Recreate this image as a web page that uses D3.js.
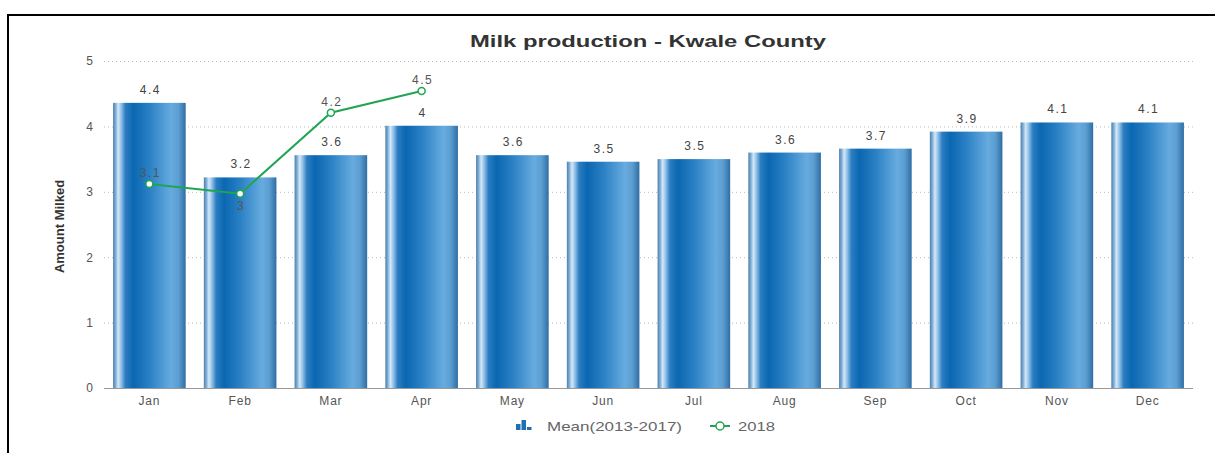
<!DOCTYPE html>
<html>
<head>
<meta charset="utf-8">
<script src="https://cdn.jsdelivr.net/npm/d3@7/dist/d3.min.js"></script>
<style>
  html, body { margin: 0; padding: 0; background: #fff; }
  svg { display: block; }
</style>
</head>
<body>
<svg id="chart" width="1215" height="453"></svg>
<script>
// Monthly milk production, Kwale County
const months = ["Jan", "Feb", "Mar", "Apr", "May", "Jun", "Jul", "Aug", "Sep", "Oct", "Nov", "Dec"];
const meanValues = [4.36, 3.22, 3.56, 4.01, 3.56, 3.46, 3.5, 3.6, 3.66, 3.92, 4.06, 4.06];
const months2018 = ["Jan", "Feb", "Mar", "Apr"];
const values2018 = [3.12, 2.97, 4.21, 4.54];
const yTicks = [0, 1, 2, 3, 4, 5];
const seriesNames = ["Mean(2013-2017)", "2018"];
const titleText = "Milk production - Kwale County";
const yTitle = "Amount Milked";

const W = 1215, H = 453;
const plot = { left: 104, right: 1193, top: 61, bottom: 388 };
const svg = d3.select("#chart");
const fmt = v => String(+v.toFixed(1));
const sans = "Liberation Sans, Arial, sans-serif";

// Frame (top and left edges)
svg.append("path")
  .attr("d", `M8,${H} L8,15 L${W},15`)
  .attr("fill", "none").attr("stroke", "#000").attr("stroke-width", 2);

// Bar gradient giving a cylindrical look
const defs = svg.append("defs");
const grad = defs.append("linearGradient").attr("id", "barGrad")
  .attr("x1", "0%").attr("x2", "100%").attr("y1", "0%").attr("y2", "0%");
[[0, "#4d7fab"], [0.035, "#7eaed6"], [0.07, "#d4e8f8"], [0.11, "#93c2e8"],
 [0.17, "#2c7dc1"], [0.28, "#0a67b1"], [0.5, "#2a80c4"], [0.8, "#67abdf"],
 [0.9, "#5c9ed2"], [1, "#2f6ea4"]].forEach(([o, c]) =>
  grad.append("stop").attr("offset", o).attr("stop-color", c));

const x = d3.scaleBand().domain(months).range([plot.left, plot.right]).paddingInner(0.2).paddingOuter(0.1);
const y = d3.scaleLinear().domain([0, 5]).range([plot.bottom, plot.top]);

// Horizontal dotted gridlines
svg.append("g").selectAll("line").data(yTicks.filter(t => t > 0)).join("line")
  .attr("x1", plot.left).attr("x2", plot.right)
  .attr("y1", d => y(d) + 0.5).attr("y2", d => y(d) + 0.5)
  .attr("stroke", "#b8b8b8").attr("stroke-width", 1).attr("stroke-dasharray", "1,3");

// Y axis tick labels
const yAxis = d3.axisLeft(y).tickValues(yTicks).tickSize(0).tickPadding(11).tickFormat(d3.format("d"));
const yg = svg.append("g").attr("transform", `translate(${plot.left},0)`).call(yAxis);
yg.select(".domain").remove();
yg.selectAll("text").attr("fill", "#555").style("font-family", sans).style("font-size", "12px");

// Y axis title
svg.append("text")
  .attr("transform", `translate(64,${(plot.top + plot.bottom) / 2 + 2}) rotate(-90)`)
  .attr("text-anchor", "middle")
  .style("font-family", "Liberation Sans Narrow, Arial Narrow, Liberation Sans, sans-serif")
  .style("font-size", "13px").style("font-weight", "bold").attr("fill", "#333")
  .text(yTitle);

// Bars
svg.append("g").selectAll("rect").data(meanValues).join("rect")
  .attr("x", (d, i) => x(months[i]))
  .attr("y", d => y(d))
  .attr("width", x.bandwidth())
  .attr("height", d => y(0) - y(d))
  .attr("fill", "url(#barGrad)");

// Bar value labels
svg.append("g").selectAll("text").data(meanValues).join("text")
  .attr("x", (d, i) => x(months[i]) + x.bandwidth() / 2 + 1)
  .attr("y", d => y(d) - 9)
  .attr("text-anchor", "middle")
  .style("font-family", sans).style("font-size", "12px")
  .style("letter-spacing", "1.5px")
  .attr("fill", "#444")
  .text(d => fmt(d));

// X axis
const xAxis = d3.axisBottom(x).tickSize(0).tickPadding(8);
const xg = svg.append("g").attr("transform", `translate(0,${plot.bottom})`).call(xAxis);
xg.select(".domain").attr("stroke", "#999").attr("d", `M${plot.left},0.5H${plot.right}`);
xg.selectAll("text").attr("fill", "#555").style("font-family", sans).style("font-size", "12px")
  .style("letter-spacing", "0.8px");

// 2018 line
const lineColor = "#1fa552";
const cx = m => x(m) + x.bandwidth() / 2;
const line = d3.line().x((d, i) => cx(months2018[i])).y(d => y(d));
svg.append("path").datum(values2018)
  .attr("d", line).attr("fill", "none").attr("stroke", lineColor).attr("stroke-width", 2);
svg.append("g").selectAll("circle").data(values2018).join("circle")
  .attr("cx", (d, i) => cx(months2018[i])).attr("cy", d => y(d)).attr("r", 3.5)
  .attr("fill", "#fff").attr("stroke", lineColor).attr("stroke-width", 1.5);

// 2018 value labels; the Feb label sits under its point
svg.append("g").selectAll("text").data(values2018).join("text")
  .attr("x", (d, i) => cx(months2018[i]) + 1)
  .attr("y", (d, i) => i === 1 ? y(d) + 16 : y(d) - 7)
  .attr("text-anchor", "middle")
  .style("font-family", sans).style("font-size", "12px")
  .style("letter-spacing", "1.5px")
  .attr("fill", "#555")
  .text(d => fmt(d));

// Title
svg.append("text")
  .attr("x", 648).attr("y", 47).attr("text-anchor", "middle")
  .attr("textLength", 356).attr("lengthAdjust", "spacingAndGlyphs")
  .style("font-family", sans)
  .style("font-size", "17px").style("font-weight", "bold").attr("fill", "#333")
  .text(titleText);

// Legend
const lg = svg.append("g").attr("transform", "translate(0,426)");
const icon = lg.append("g").attr("transform", "translate(516,0)");
[[0, 6], [5.5, 10], [11, 3]].forEach(([dx, h]) =>
  icon.append("rect").attr("x", dx).attr("y", 4 - h).attr("width", 4.5).attr("height", h).attr("fill", "#1f6fb4"));
lg.append("text").attr("x", 547).attr("y", 4.5).attr("fill", "#666")
  .attr("textLength", 135).attr("lengthAdjust", "spacingAndGlyphs")
  .style("font-family", sans).style("font-size", "13px")
  .text(seriesNames[0]);
lg.append("line").attr("x1", 710).attr("x2", 730).attr("y1", 0).attr("y2", 0)
  .attr("stroke", lineColor).attr("stroke-width", 2);
lg.append("circle").attr("cx", 720).attr("cy", 0).attr("r", 4)
  .attr("fill", "#fff").attr("stroke", lineColor).attr("stroke-width", 1.5);
lg.append("text").attr("x", 738).attr("y", 4.5).attr("fill", "#666")
  .attr("textLength", 37).attr("lengthAdjust", "spacingAndGlyphs")
  .style("font-family", sans).style("font-size", "13px")
  .text(seriesNames[1]);
</script>
</body>
</html>
